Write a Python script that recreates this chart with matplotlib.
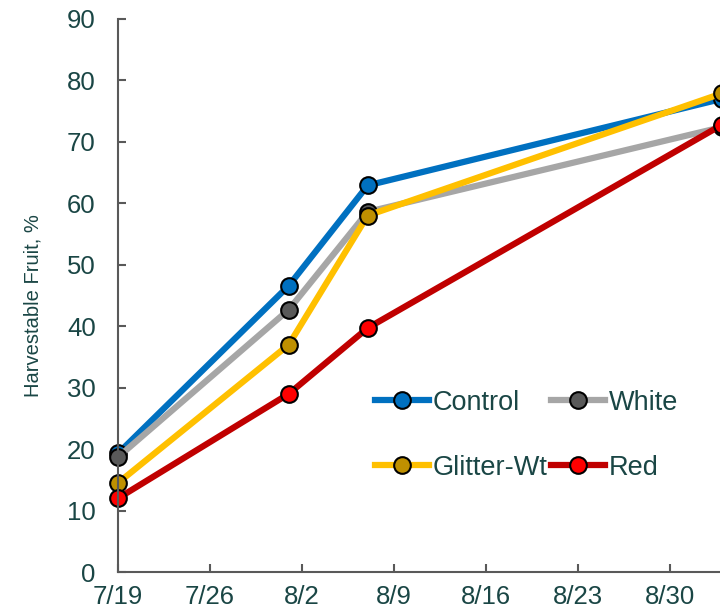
import numpy as np
import pandas as pd
import matplotlib
matplotlib.use("Agg")
import matplotlib.pyplot as plt

# даты отбора и доля товарных плодов, %
dates = ["2021-07-19", "2021-08-01", "2021-08-07", "2021-09-03"]
control = [19.3, 46.6, 62.9, 77.0]
white = [18.7, 42.7, 58.6, 72.4]
glitter = [14.5, 37.0, 58.0, 77.9]
red = [12.0, 29.0, 39.7, 72.8]

tick_dates = ["2021-07-19", "2021-07-26", "2021-08-02", "2021-08-09",
              "2021-08-16", "2021-08-23", "2021-08-30"]
tick_labels = ["7/19", "7/26", "8/2", "8/9", "8/16", "8/23", "8/30"]

text_col = "#1A4645"
plt.rcParams['font.family'] = ['Liberation Sans', 'DejaVu Sans']

t0 = pd.Timestamp(dates[0])
x = [(pd.Timestamp(d) - t0).days for d in dates]
xt = [(pd.Timestamp(d) - t0).days for d in tick_dates]

fig = plt.figure(figsize=(7.2, 6.16), dpi=100)
ax = fig.add_axes([0.164, 0.0714, 0.894, 0.898])

series = [
    ("Control", control, "#0070C0", "#0070C0"),
    ("White", white, "#A6A6A6", "#595959"),
    ("Glitter-Wt", glitter, "#FFC000", "#BF9000"),
    ("Red", red, "#C00000", "#FF0000"),
]
lines = {}
for name, vals, lc, mc in series:
    ln, = ax.plot(x, vals, color=lc, lw=4.5, marker='o', ms=12,
                  mfc=mc, mec='black', mew=1.5, label=name, clip_on=False)
    lines[name] = ln

ax.set_xlim(0, 49)
ax.set_ylim(0, 90)
ax.set_yticks(np.arange(0, 91, 10))
ax.set_xticks(xt)
ax.set_xticklabels(tick_labels)

for s in ['top', 'right']:
    ax.spines[s].set_visible(False)
for s in ['left', 'bottom']:
    ax.spines[s].set_color('#595959')
    ax.spines[s].set_linewidth(1.5)
ax.tick_params(direction='in', length=6, width=1.5, color='#595959',
               labelsize=18.5, labelcolor=text_col)
ax.tick_params(axis='x', pad=9)
ax.tick_params(axis='y', pad=16)

ax.set_ylabel("Harvestable Fruit, %", fontsize=14.5, color=text_col)
ax.yaxis.set_label_coords(-0.118, 0.482)

# порядок: по строкам (Control, White / Glitter-Wt, Red)
order = ["Control", "Glitter-Wt", "White", "Red"]
ax.legend([lines[n] for n in order], order, ncol=2, loc='upper left',
          bbox_to_anchor=(0.361, 0.374),
          frameon=False, fontsize=19.5, labelcolor=text_col,
          handlelength=2.0, handletextpad=0.12, labelspacing=1.45,
          columnspacing=0.15)

fig.savefig("out.png", dpi=100)
